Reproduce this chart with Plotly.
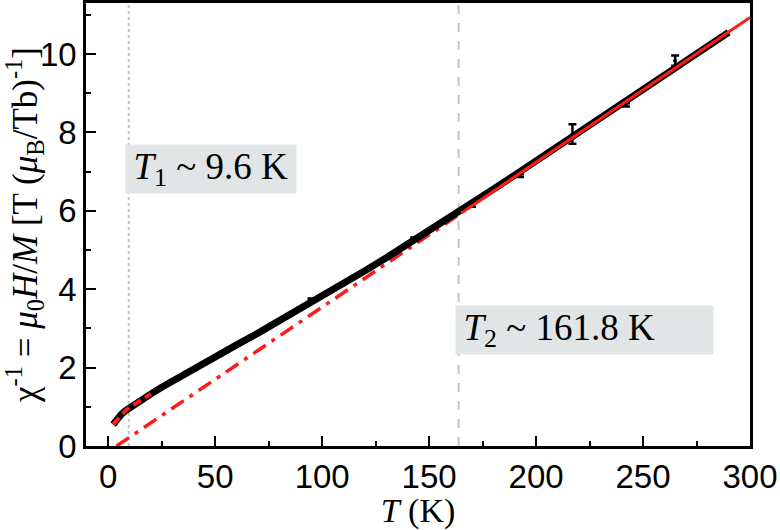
import plotly.graph_objects as go

temp_k = [2.3, 4, 6, 8, 10, 12, 15, 20, 25, 30, 35, 40, 50, 60, 70, 80, 90,
          100, 110, 120, 130, 140, 150, 160, 170, 180, 190, 200, 210, 220,
          230, 240, 250, 260, 270, 280, 290]
chi_inv = [0.55, 0.68, 0.80, 0.90, 0.98, 1.06, 1.17, 1.33, 1.50, 1.66, 1.81,
           1.96, 2.27, 2.58, 2.88, 3.19, 3.50, 3.82, 4.14, 4.47, 4.80, 5.14,
           5.48, 5.83, 6.19, 6.55, 6.91, 7.27, 7.63, 7.99, 8.36, 8.72, 9.09,
           9.45, 9.82, 10.19, 10.55]

# points carrying error bars
err_t = [95, 143, 170, 192.5, 217, 242, 265]
err_y = [3.72, 5.28, 6.14, 6.90, 7.96, 8.70, 9.83]
err_d = [0.04, 0.04, 0.04, 0.04, 0.25, 0.04, 0.13]

# low-temperature fit (red dashed)
low_t = [2.3, 5, 8, 11, 14, 17, 20]
low_y = [0.55, 0.73, 0.90, 1.02, 1.13, 1.23, 1.33]

# Curie-Weiss line: solid above T2, dash-dot extrapolation below
cw_hi_t = [165, 300]
cw_hi_y = [5.94, 10.93]
cw_lo_t = [3.9, 165]
cw_lo_y = [0.0, 5.94]

t1, t2 = 9.6, 163.8

serif = "Liberation Serif"
sans = "Liberation Sans"

fig = go.Figure()

for xv, dash in [(t1, "dot"), (t2, "dash")]:
    fig.add_trace(go.Scatter(x=[xv, xv], y=[0, 11.3], mode="lines",
                             line=dict(color="#c4c4c4", width=2, dash=dash),
                             showlegend=False, hoverinfo="skip"))

fig.add_trace(go.Scatter(x=cw_lo_t, y=cw_lo_y, mode="lines",
                         line=dict(color="#ff1a1a", width=3.5,
                                   dash="15px,7px,4px,7px"),
                         showlegend=False))
fig.add_trace(go.Scatter(x=temp_k, y=chi_inv, mode="lines",
                         line=dict(color="black", width=7),
                         showlegend=False))
fig.add_trace(go.Scatter(x=err_t, y=err_y, mode="markers",
                         marker=dict(color="black", size=4),
                         error_y=dict(type="data", array=err_d, color="black",
                                      thickness=2.5, width=4),
                         showlegend=False))
fig.add_trace(go.Scatter(x=low_t, y=low_y, mode="lines",
                         line=dict(color="#ff1a1a", width=4, dash="9px,5px"),
                         showlegend=False))
fig.add_trace(go.Scatter(x=cw_hi_t, y=cw_hi_y, mode="lines",
                         line=dict(color="#ff1a1a", width=3),
                         showlegend=False))

box = dict(showarrow=False, xanchor="left", yanchor="middle",
           bgcolor="#e2e5e5", borderpad=0, height=48, align="left",
           font=dict(family=serif, size=37, color="black"))
fig.add_annotation(x=7.8, y=7.06, width=170,
                   text="&#8201;<i>T</i><sub>1</sub> ~ 9.6 K", **box)
fig.add_annotation(x=162.0, y=2.95, width=257,
                   text="&#8201;<i>T</i><sub>2</sub> ~ 161.8 K", **box)

fig.update_xaxes(range=[-10.4, 300], tickvals=[0, 50, 100, 150, 200, 250, 300],
                 ticks="inside", ticklen=10, tickwidth=2, tickcolor="black",
                 minor=dict(ticks="inside", ticklen=5, tickwidth=2,
                            tickcolor="black", tickvals=[25, 75, 125, 175, 225, 275]),
                 showline=True, linewidth=2.5, linecolor="black", mirror=True,
                 showgrid=False, zeroline=False, automargin=False,
                 tickfont=dict(family=sans, size=33, color="black"),
                 title=dict(text="<i>T</i> (K)", standoff=0,
                            font=dict(family=serif, size=34, color="black")))
fig.update_yaxes(range=[0, 11.3], tickvals=[0, 2, 4, 6, 8, 10],
                 ticks="inside", ticklen=10, tickwidth=2, tickcolor="black",
                 minor=dict(ticks="inside", ticklen=5, tickwidth=2,
                            tickcolor="black", tickvals=[1, 3, 5, 7, 9, 11]),
                 showline=True, linewidth=2.5, linecolor="black", mirror=True,
                 showgrid=False, zeroline=False, automargin=False,
                 tickfont=dict(family=sans, size=33, color="black"),
                 title=dict(text="χ<sup>-1</sup> = <i>μ</i><sub>0</sub><i>H</i>/<i>M</i>"
                                 " [T (<i>μ</i><sub>B</sub>/Tb)<sup>-1</sup>]",
                            standoff=0,
                            font=dict(family=serif, size=35, color="black")))

fig.update_layout(width=780, height=530, plot_bgcolor="white",
                  paper_bgcolor="white",
                  margin=dict(l=86, r=30, t=3, b=84))

# drop the browser's default body margin so the figure sits at the corner
fig.write_html("out.html", config={"displayModeBar": False},
               post_script="document.body.style.margin='0';")
